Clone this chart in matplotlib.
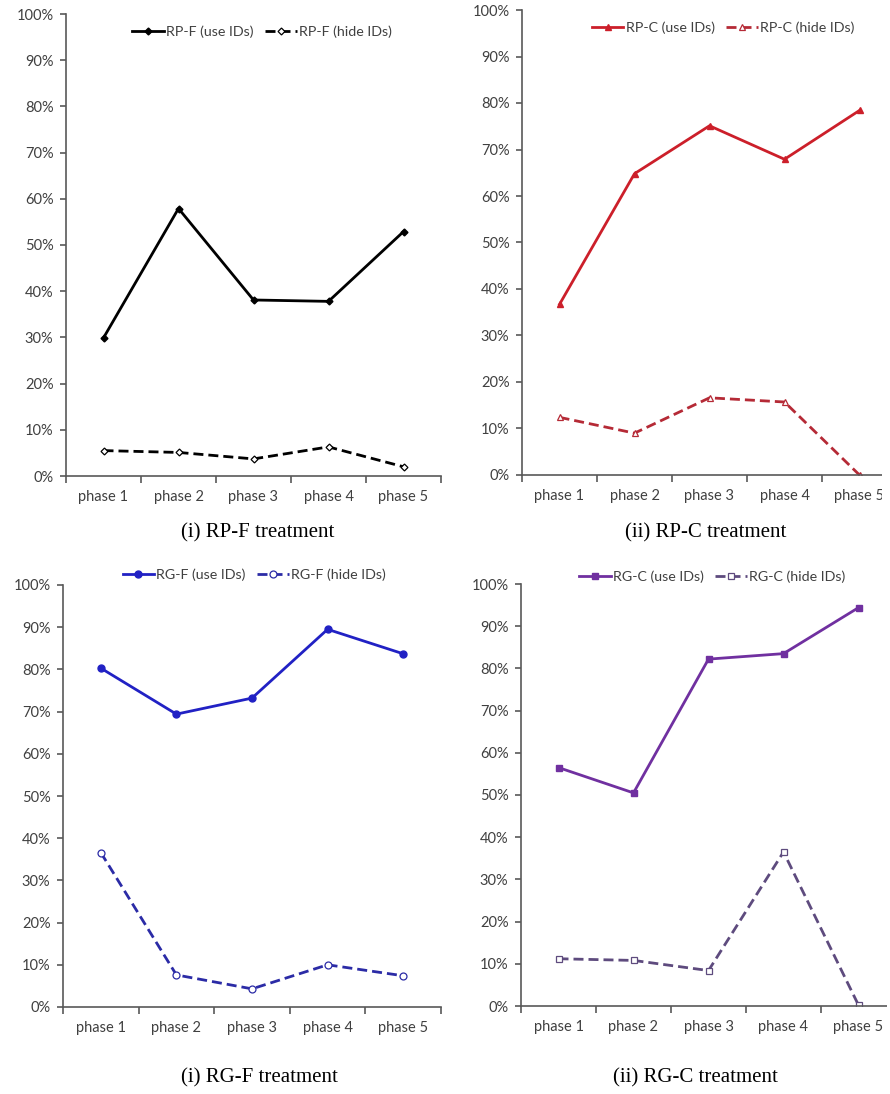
import matplotlib
matplotlib.use('Agg')
import matplotlib.pyplot as plt
from matplotlib.patches import Rectangle
from matplotlib.ticker import FixedLocator, PercentFormatter

phases = ['phase 1', 'phase 2', 'phase 3', 'phase 4', 'phase 5']

# share of subjects (%) per phase
rpf_use = [29.9, 57.9, 38.1, 37.8, 52.9]
rpf_hide = [5.5, 5.1, 3.7, 6.3, 2.0]
rpc_use = [36.7, 64.8, 75.1, 67.9, 78.4]
rpc_hide = [12.4, 9.0, 16.6, 15.7, 0.0]
rgf_use = [80.3, 69.4, 73.2, 89.5, 83.7]
rgf_hide = [36.6, 7.6, 4.3, 10.0, 7.4]
rgc_use = [56.5, 50.5, 82.2, 83.5, 94.4]
rgc_hide = [11.2, 10.8, 8.4, 36.5, 0.2]

captions = ['(i) RP-F treatment', '(ii) RP-C treatment',
            '(i) RG-F treatment', '(ii) RG-C treatment']

tick_font = 'Lato'
axis_col = '#595959'
text_col = '#404040'

fig = plt.figure(figsize=(8.9, 10.94), dpi=100)


def panel(rect, use, hide, name, c_use, c_hide, marker, msize, legend_xy, caption, caption_xy):
    ax = fig.add_axes(rect)
    x = list(range(len(phases)))
    ax.plot(x, use, color=c_use, lw=2.0, marker=marker, ms=msize,
            mfc=c_use, mec=c_use, label=name + ' (use IDs)')
    ax.plot(x, hide, color=c_hide, lw=2.0, ls=(0, (3.6, 1.8)), marker=marker, ms=msize,
            mfc='white', mec=c_hide, mew=0.9, label=name + ' (hide IDs)')
    ax.set_xlim(-0.5, 4.5)
    ax.set_ylim(0, 100)
    ax.set_yticks(range(0, 101, 10))
    ax.yaxis.set_major_formatter(PercentFormatter(decimals=0))
    ax.set_xticks(x)
    ax.set_xticklabels(phases)
    ax.xaxis.set_minor_locator(FixedLocator([-0.5, 0.5, 1.5, 2.5, 3.5, 4.5]))
    ax.tick_params(axis='x', which='major', length=0, pad=10)
    ax.tick_params(axis='x', which='minor', length=5, width=1.2, color=axis_col, direction='out')
    ax.tick_params(axis='y', length=4, width=1.2, color=axis_col, pad=5)
    for lab in ax.get_xticklabels() + ax.get_yticklabels():
        lab.set_fontfamily(tick_font)
        lab.set_fontsize(10.5)
        lab.set_color(text_col)
    for s in ['top', 'right']:
        ax.spines[s].set_visible(False)
    for s in ['left', 'bottom']:
        ax.spines[s].set_color(axis_col)
        ax.spines[s].set_linewidth(1.2)
    ax.set_clip_on(False)
    leg = fig.legend(handles=ax.get_lines(), loc='center', bbox_to_anchor=legend_xy,
                     ncol=2, frameon=False, handlelength=2.2, handletextpad=0.15,
                     columnspacing=0.8, prop={'family': tick_font, 'size': 10.3})
    for t in leg.get_texts():
        t.set_color(text_col)
    fig.text(caption_xy[0], caption_xy[1], caption, ha='center', va='center',
             family='Liberation Serif', fontsize=15, color='black')
    return ax


W = 890.0
H = 1094.0


def rect(left, right, top, bottom):
    return [left / W, 1 - bottom / H, (right - left) / W, (bottom - top) / H]


panel(rect(66, 441, 14, 476), rpf_use, rpf_hide, 'RP-F', 'black', 'black', 'D', 3.5,
      (262 / W, 1 - 32 / H), captions[0], (258 / W, 1 - 533 / H))
panel(rect(522, 897, 10, 475), rpc_use, rpc_hide, 'RP-C', '#cc1f2a', '#b52a36', '^', 5,
      (723 / W, 1 - 28 / H), captions[1], (706 / W, 1 - 533 / H))
panel(rect(63, 441, 585, 1007), rgf_use, rgf_hide, 'RG-F', '#2121c4', '#2b2ba6', 'o', 5,
      (254 / W, 1 - 575 / H), captions[2], (259 / W, 1 - 1078 / H))
panel(rect(521, 896, 584, 1006), rgc_use, rgc_hide, 'RG-C', '#7030a0', '#5e4b7e', 's', 5,
      (712 / W, 1 - 577 / H), captions[3], (695 / W, 1 - 1078 / H))

# the right-hand charts are trimmed at the page edge
fig.patches.append(Rectangle((882 / W, 1 - 520 / H), 1, 520 / H, transform=fig.transFigure,
                             facecolor='white', edgecolor='none', zorder=10))
fig.patches.append(Rectangle((887 / W, 1 - 1060 / H), 1, 540 / H, transform=fig.transFigure,
                             facecolor='white', edgecolor='none', zorder=10))

fig.savefig('out.png', dpi=100)
